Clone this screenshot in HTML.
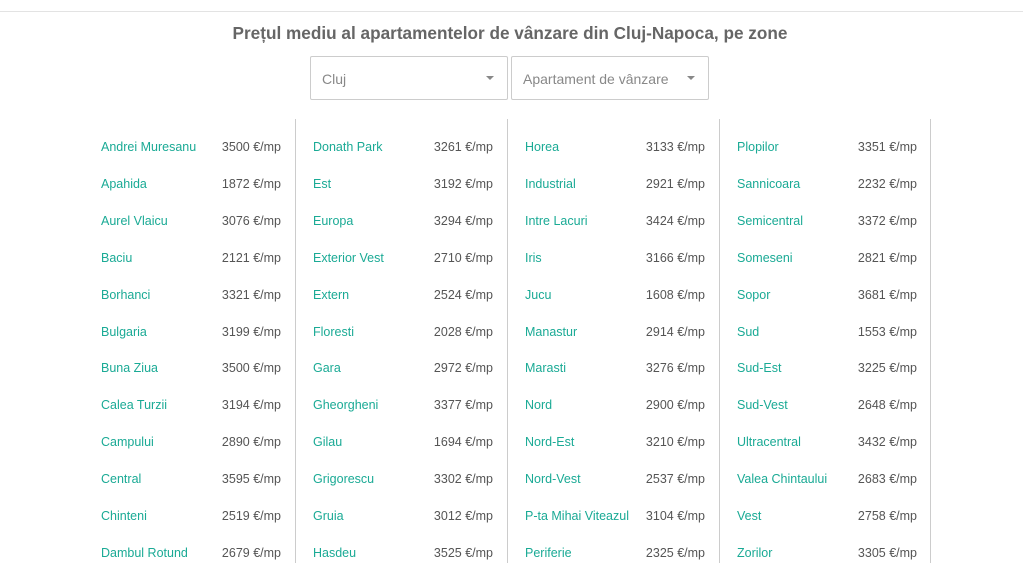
<!DOCTYPE html>
<html><head><meta charset="utf-8"><style>
body{margin:0;width:1023px;height:583px;background:#fff;font-family:"Liberation Sans",sans-serif;position:relative;overflow:hidden}
.top{position:absolute;left:0;top:11px;width:1023px;height:1px;background:#e3e3e3}
h1{position:absolute;top:23px;left:0;width:1020px;text-align:center;margin:0;font-size:17.2px;font-weight:bold;color:#666}
.sel{position:absolute;top:56px;height:44px;border:1px solid #ccc;border-radius:2px;box-sizing:border-box;color:#888;font-size:14px;line-height:44px;padding-left:11px}
.sel:after{content:"";position:absolute;right:13px;top:19px;border-left:4px solid transparent;border-right:4px solid transparent;border-top:4px solid #888}
.sep{position:absolute;top:119px;height:444px;width:1px;background:#ccc}
.r{position:absolute;font-size:12.5px;height:16px;line-height:16px}
.n{color:#1aaa95}.p{color:#555;text-align:right;width:100px}
</style></head><body>
<div class="top"></div>
<h1>Prețul mediu al apartamentelor de vânzare din Cluj-Napoca, pe zone</h1>
<div class="sel" style="left:310px;width:198px">Cluj</div>
<div class="sel" style="left:511px;width:198px">Apartament de vânzare</div>
<div class="sep" style="left:295px"></div><div class="sep" style="left:507px"></div><div class="sep" style="left:719px"></div><div class="sep" style="left:930px"></div>
<div id="c"></div>
<script>
var d=[["Andrei Muresanu",3500,"Apahida",1872,"Aurel Vlaicu",3076,"Baciu",2121,"Borhanci",3321,"Bulgaria",3199,"Buna Ziua",3500,"Calea Turzii",3194,"Campului",2890,"Central",3595,"Chinteni",2519,"Dambul Rotund",2679],
["Donath Park",3261,"Est",3192,"Europa",3294,"Exterior Vest",2710,"Extern",2524,"Floresti",2028,"Gara",2972,"Gheorgheni",3377,"Gilau",1694,"Grigorescu",3302,"Gruia",3012,"Hasdeu",3525],
["Horea",3133,"Industrial",2921,"Intre Lacuri",3424,"Iris",3166,"Jucu",1608,"Manastur",2914,"Marasti",3276,"Nord",2900,"Nord-Est",3210,"Nord-Vest",2537,"P-ta Mihai Viteazul",3104,"Periferie",2325],
["Plopilor",3351,"Sannicoara",2232,"Semicentral",3372,"Someseni",2821,"Sopor",3681,"Sud",1553,"Sud-Est",3225,"Sud-Vest",2648,"Ultracentral",3432,"Valea Chintaului",2683,"Vest",2758,"Zorilor",3305]];
var h="";
d.forEach(function(c,ci){for(var i=0;i<12;i++){var y=139+i*36.9,x=101+ci*212;
h+='<div class="r n" style="left:'+x+'px;top:'+y+'px">'+c[2*i]+'</div><div class="r p" style="left:'+(x+80)+'px;top:'+y+'px">'+c[2*i+1]+' €/mp</div>';}});
document.getElementById("c").innerHTML=h;
</script>
</body></html>
